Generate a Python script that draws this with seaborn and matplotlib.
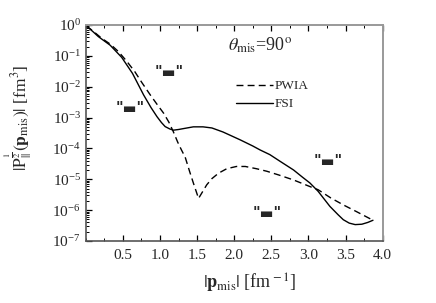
"""Momentum distribution |P^(1/2)(p_mis)| vs |p_mis| at theta_mis = 90 deg, PWIA vs FSI."""

import matplotlib

matplotlib.use("Agg")
import matplotlib.pyplot as plt
import numpy as np
import pandas as pd
import seaborn as sns
from matplotlib.ticker import LogLocator, MultipleLocator, NullFormatter

# values
pwia_p = [0.01, 0.10, 0.215, 0.33, 0.44, 0.55, 0.66, 0.76, 0.87, 0.96, 1.05,
          1.12, 1.18, 1.24, 1.29, 1.34, 1.40, 1.45, 1.52, 1.57, 1.63, 1.70,
          1.79, 1.90, 2.03, 2.15, 2.30, 2.44, 2.60, 2.80, 3.07, 3.13, 3.30,
          3.47, 3.65, 3.87]
pwia_val = [0.93, 0.63, 0.37, 0.24, 0.138, 6.8e-2, 3.1e-2, 1.32e-2, 5.4e-3,
            2.7e-3, 1.38e-3, 7.1e-4, 3.5e-4, 1.58e-4, 8.9e-5, 5.2e-5, 1.78e-5,
            7.6e-6, 2.4e-6, 3.8e-6, 6.6e-6, 1.05e-5, 1.58e-5, 2.2e-5, 2.6e-5,
            2.6e-5, 2.2e-5, 1.82e-5, 1.38e-5, 9.5e-6, 5.2e-6, 4.6e-6, 2.5e-6,
            1.48e-6, 8.9e-7, 4.7e-7]

fsi_p = [0.01, 0.10, 0.17, 0.33, 0.485, 0.63, 0.78, 0.88, 0.96, 1.02, 1.07,
         1.13, 1.18, 1.25, 1.32, 1.45, 1.58, 1.70, 1.85, 2.08, 2.25, 2.35,
         2.48, 2.62, 2.80, 2.92, 3.02, 3.13, 3.29, 3.40, 3.47, 3.55, 3.63,
         3.72, 3.80, 3.87]
fsi_val = [0.93, 0.60, 0.42, 0.22, 8.9e-2, 2.7e-2, 5.4e-3, 2.1e-3, 1.07e-3,
           6.9e-4, 5.1e-4, 4.3e-4, 3.9e-4, 4.1e-4, 4.4e-4, 5.0e-4, 5.0e-4,
           4.6e-4, 3.4e-4, 1.9e-4, 1.2e-4, 8.9e-5, 6.3e-5, 3.8e-5, 2.0e-5,
           1.17e-5, 7.6e-6, 4.1e-6, 1.32e-6, 7.1e-7, 4.9e-7, 3.8e-7, 3.4e-7,
           3.5e-7, 4.0e-7, 4.7e-7]

# the odd '"▬"' annotations scattered over the plot (x, y)
marks_x = [1.125, 0.60, 3.26, 2.44]
marks_y = [2.8e-2, 1.9e-3, 3.8e-5, 7.6e-7]

sns.set_style("ticks")
plt.rcParams["font.family"] = ["Liberation Serif", "DejaVu Sans"]
plt.rcParams["mathtext.fontset"] = "stix"

df = pd.concat([
    pd.DataFrame({"p": pwia_p, "val": pwia_val, "calc": "PWIA"}),
    pd.DataFrame({"p": fsi_p, "val": fsi_val, "calc": "FSI"}),
])

fig = plt.figure(figsize=(4.36, 3.03), dpi=100)
ax = fig.add_axes([0.1966, 0.2046, 0.681, 0.713])

sns.lineplot(data=df, x="p", y="val", style="calc",
             dashes={"PWIA": (5, 3), "FSI": ""},
             color="black", lw=1.0, ax=ax, sort=False, estimator=None)

ax.set_yscale("log")
ax.set_xlim(0, 4.0)
ax.set_ylim(1e-7, 1)

ax.set_xticks(np.arange(0.5, 4.01, 0.5))
ax.set_xticklabels(["0.5", "1.0", "1.5", "2.0", "2.5", "3.0", "3.5", "4.0"])
ax.xaxis.set_minor_locator(MultipleLocator(0.25))
ax.yaxis.set_major_locator(LogLocator(base=10, numticks=10))
ax.yaxis.set_minor_locator(LogLocator(base=10, subs=np.arange(2, 10), numticks=20))
ax.yaxis.set_minor_formatter(NullFormatter())

ax.tick_params(which="both", direction="in", top=True, right=False,
               labelsize=11, color="black")
ax.tick_params(which="major", length=4, width=0.9)
ax.tick_params(which="minor", length=2, width=0.7)
ax.tick_params(axis="x", pad=6)

for side in ["left", "bottom"]:
    ax.spines[side].set_color("#555555")
    ax.spines[side].set_linewidth(1.2)
for side in ["top", "right"]:
    ax.spines[side].set_color("#999999")
    ax.spines[side].set_linewidth(1.4)

ax.set_xlabel(r"$|\mathbf{p}_{\rm mis}|$ [fm$^{\rm -1}$]", fontsize=13)
ax.xaxis.set_label_coords(0.553, -0.145)
ax.set_ylabel(r"$|{\rm P}^{\frac{1}{2}}_{||}(\mathbf{p}_{\rm mis})|$ [fm$^3$]",
              fontsize=12.5)
ax.yaxis.set_label_coords(-0.175, 0.57)

ax.text(0.48, 0.905, r"$\theta_{\rm mis}$=90$^{\rm o}$", transform=ax.transAxes,
        fontsize=13, va="center", ha="left")

for mx, my in zip(marks_x, marks_y):
    ax.text(mx, my, '"\u25ac"', fontsize=10.5, fontweight="bold", ha="center",
            va="center", family=["DejaVu Sans"])

ax.legend(loc="upper left", bbox_to_anchor=(0.49, 0.77), frameon=False,
          fontsize=9.5, handlelength=2.8, handletextpad=0.1,
          labelspacing=0.45, borderaxespad=0)

fig.savefig("out.png", dpi=100)
plt.close(fig)
